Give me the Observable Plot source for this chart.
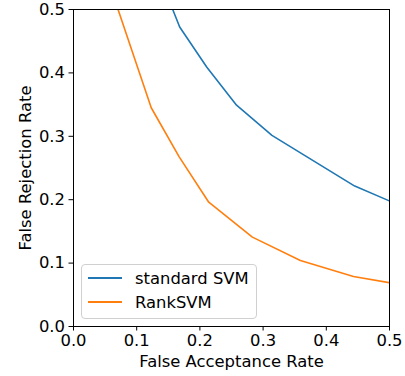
<!DOCTYPE html>
<html>
<head>
<meta charset="utf-8">
<script src="https://cdn.jsdelivr.net/npm/d3@7"></script>
<script src="https://cdn.jsdelivr.net/npm/@observablehq/plot@0.6"></script>
<style>
  html, body { margin: 0; padding: 0; background: #fff; }
  #wrap { position: relative; width: 405px; height: 376px; font-family: "DejaVu Sans", sans-serif; }
  #legend { position: absolute; left: 81px; top: 264px; width: 176px; height: 55px; box-sizing: border-box;
    border: 1px solid #d0d0d0; border-radius: 4px; background: rgba(255,255,255,0.8); font-size: 16.4px; color: #000; }
  .row { position: absolute; left: 6px; height: 20px; display: flex; align-items: center; }
  .sw { width: 34px; height: 2px; margin-right: 13px; }
</style>
</head>
<body>
<div id="wrap"></div>
<script>
const seriesNames = ["standard SVM", "RankSVM"];
const seriesColors = ["#1f77b4", "#ff7f0e"];
const farSVM  = [0.157, 0.168, 0.211, 0.258, 0.314, 0.445, 0.5];
const frrSVM  = [0.5, 0.4725, 0.409, 0.349, 0.3015, 0.2215, 0.198];
const farRank = [0.0705, 0.123, 0.167, 0.214, 0.283, 0.359, 0.443, 0.5];
const frrRank = [0.5, 0.345, 0.268, 0.196, 0.141, 0.104, 0.079, 0.069];
const tickValues = [0, 0.1, 0.2, 0.3, 0.4, 0.5];
const xLabel = "False Acceptance Rate";
const yLabel = "False Rejection Rate";

const data = [
  ...farSVM.map((x, i) => ({x, y: frrSVM[i], s: seriesNames[0]})),
  ...farRank.map((x, i) => ({x, y: frrRank[i], s: seriesNames[1]}))
];

const fmt = d3.format(".1f");
const FS = 16.4;
const chart = Plot.plot({
  width: 405,
  height: 376,
  marginLeft: 73,
  marginRight: 16,
  marginTop: 9,
  marginBottom: 50,
  style: {fontFamily: "DejaVu Sans, sans-serif", fontSize: FS + "px", color: "#000", background: "#fff"},
  x: {domain: [0, 0.5], ticks: tickValues, tickFormat: fmt, label: null},
  y: {domain: [0, 0.5], ticks: tickValues, tickFormat: fmt, label: null},
  color: {domain: seriesNames, range: seriesColors},
  marks: [
    Plot.axisX({ticks: tickValues, tickFormat: fmt, tickSize: 4.5, tickPadding: 3, fontSize: FS, stroke: "#000", fill: "#000", label: null}),
    Plot.axisY({ticks: tickValues, tickFormat: fmt, tickSize: 4.5, tickPadding: 4, fontSize: FS, stroke: "#000", fill: "#000", label: null}),
    Plot.line(data, {x: "x", y: "y", z: "s", stroke: "s", strokeWidth: 1.6, clip: true}),
    Plot.frame({stroke: "#000", strokeWidth: 1}),
    Plot.text([xLabel], {text: d => d, frameAnchor: "bottom", textAnchor: "middle", dy: 40, fontSize: FS, fill: "#000"}),
    Plot.text([yLabel], {text: d => d, frameAnchor: "left", textAnchor: "middle", dx: -48, rotate: -90, fontSize: FS, fill: "#000"})
  ]
});
const wrap = document.getElementById("wrap");
wrap.appendChild(chart);
const lg = document.createElement("div");
lg.id = "legend";
seriesNames.forEach((n, i) => {
  const r = document.createElement("div");
  r.className = "row";
  r.style.top = (3 + i * 24) + "px";
  const sw = document.createElement("span");
  sw.className = "sw";
  sw.style.background = seriesColors[i];
  r.appendChild(sw);
  r.appendChild(document.createTextNode(n));
  lg.appendChild(r);
});
wrap.appendChild(lg);
</script>
</body>
</html>
